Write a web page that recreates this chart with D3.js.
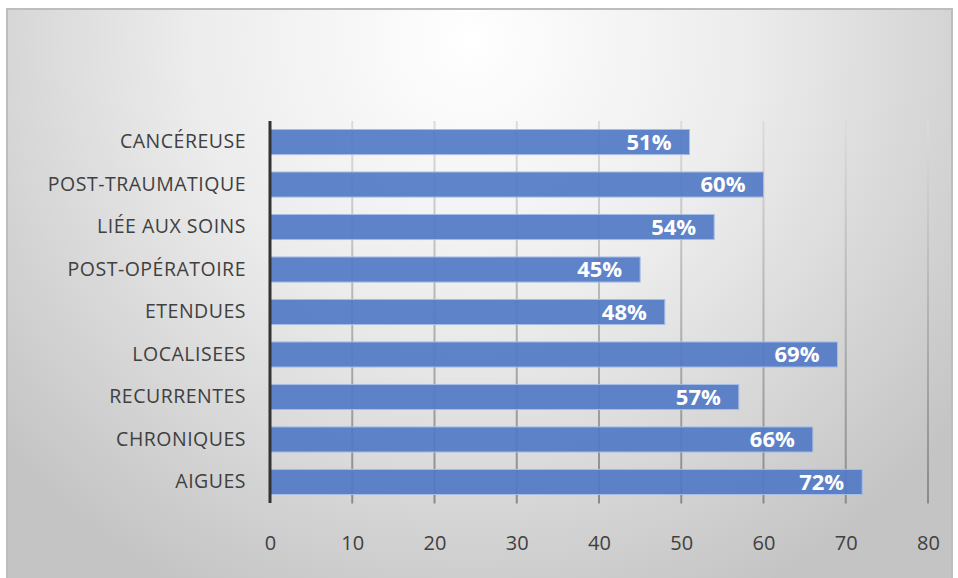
<!DOCTYPE html>
<html>
<head>
<meta charset="utf-8">
<script src="https://cdn.jsdelivr.net/npm/d3@7"></script>
<style>
  body { margin: 0; background: #fff; }
  text { font-family: "Open Sans", "Noto Sans", sans-serif; }
</style>
</head>
<body>
<svg id="chart" width="958" height="578"></svg>
<script>
// Data (top to bottom)
const categories = ["CANCÉREUSE", "POST-TRAUMATIQUE", "LIÉE AUX SOINS", "POST-OPÉRATOIRE",
  "ETENDUES", "LOCALISEES", "RECURRENTES", "CHRONIQUES", "AIGUES"];
const values = [51, 60, 54, 45, 48, 69, 57, 66, 72];
const xTicks = [0, 10, 20, 30, 40, 50, 60, 70, 80];

const svg = d3.select("#chart");
const margin = { left: 270, right: 30, top: 121, bottom: 75 };
const width = 958, height = 578;

const defs = svg.append("defs");

// radial background like the office chart style
const bg = defs.append("radialGradient")
  .attr("id", "bg")
  .attr("gradientUnits", "userSpaceOnUse")
  .attr("cx", 470).attr("cy", 40).attr("r", 620);
bg.append("stop").attr("offset", "0%").attr("stop-color", "#ffffff");
bg.append("stop").attr("offset", "45%").attr("stop-color", "#ececec");
bg.append("stop").attr("offset", "100%").attr("stop-color", "#c4c4c4");

// gridlines get darker toward the bottom
const gg = defs.append("linearGradient")
  .attr("id", "grid")
  .attr("gradientUnits", "userSpaceOnUse")
  .attr("x1", 0).attr("y1", margin.top).attr("x2", 0).attr("y2", height - margin.bottom);
gg.append("stop").attr("offset", "0%").attr("stop-color", "#dcdcdc");
gg.append("stop").attr("offset", "100%").attr("stop-color", "#8a8a8a");

// chart frame
svg.append("rect")
  .attr("x", 7).attr("y", 9)
  .attr("width", 945).attr("height", 575)
  .attr("fill", "url(#bg)")
  .attr("stroke", "#bdbdbd")
  .attr("stroke-width", 2);

const x = d3.scaleLinear()
  .domain([0, 80])
  .range([margin.left, 928]);

const y = d3.scaleBand()
  .domain(categories)
  .range([margin.top, height - margin.bottom])
  .paddingInner(0.41)
  .paddingOuter(0.2);

// vertical gridlines (with little ticks below the last bar)
svg.append("g")
  .selectAll("line")
  .data(xTicks.slice(1))
  .join("line")
  .attr("x1", d => x(d)).attr("x2", d => x(d))
  .attr("y1", margin.top).attr("y2", height - margin.bottom + 0.5)
  .attr("stroke", "url(#grid)")
  .attr("stroke-width", 2);

// bars
svg.append("g")
  .selectAll("rect")
  .data(values)
  .join("rect")
  .attr("x", x(0))
  .attr("y", (d, i) => y(categories[i]))
  .attr("width", d => x(d) - x(0))
  .attr("height", y.bandwidth())
  .attr("fill", "#5279c6")
  .attr("fill-opacity", 0.92)
  .attr("stroke", "#a6bde6")
  .attr("stroke-width", 1);

// value labels
svg.append("g")
  .selectAll("text")
  .data(values)
  .join("text")
  .attr("x", d => x(d) - 18)
  .attr("y", (d, i) => y(categories[i]) + y.bandwidth() / 2)
  .attr("dy", "0.36em")
  .attr("text-anchor", "end")
  .attr("fill", "#ffffff")
  .attr("font-size", 22)
  .attr("font-weight", "bold")
  .text(d => d + "%");

// y axis
const yAxis = svg.append("g")
  .attr("transform", `translate(${margin.left},0)`)
  .call(d3.axisLeft(y).tickSize(0).tickPadding(24));
yAxis.select(".domain")
  .attr("d", `M0,${margin.top}V${height - margin.bottom}`)
  .attr("stroke", "#333")
  .attr("stroke-width", 3);
yAxis.selectAll("text")
  .attr("fill", "#404040")
  .attr("font-size", 19.5)
  .attr("letter-spacing", 0.5)
  .style("font-family", "'Open Sans', sans-serif");

// x axis labels only
const xAxis = svg.append("g")
  .attr("transform", `translate(0,${height - margin.bottom})`)
  .call(d3.axisBottom(x).tickValues(xTicks).tickSize(0).tickPadding(33));
xAxis.select(".domain").remove();
xAxis.selectAll("text")
  .attr("fill", "#404040")
  .attr("font-size", 20)
  .style("font-family", "'Open Sans', sans-serif");
</script>
</body>
</html>
